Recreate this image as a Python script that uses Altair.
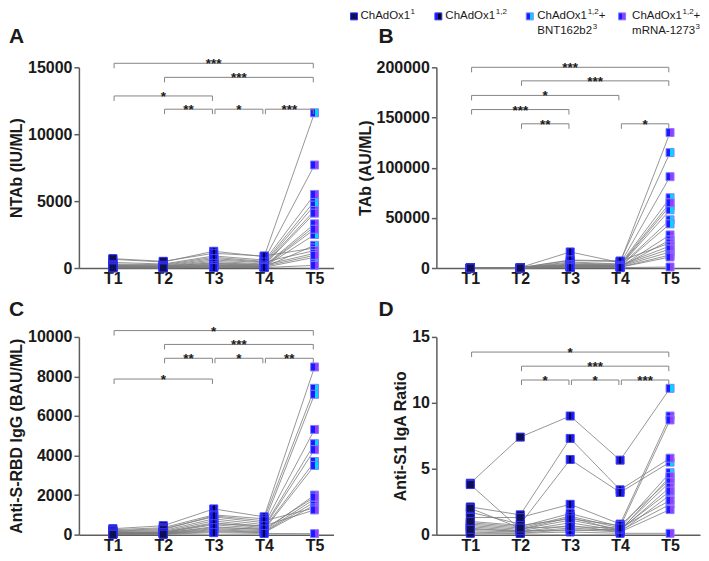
import altair as alt
import pandas as pd

FONT = "Liberation Sans, Arial, Helvetica, sans-serif"
TIMES = [1, 2, 3, 4, 5]

# ---------------- Panel A : NTAb (IU/ML) ----------------
A_T1 = [650, 420, 300, 200, 150, 120, 100, 80, 60, 50, 40, 30, 700, 250, 180, 90, 20, 10]
A_T2 = [450, 300, 250, 150, 120, 100, 90, 70, 50, 40, 30, 20, 500, 200, 150, 80, 15, 10]
A_T3 = [1250, 900, 800, 600, 500, 400, 300, 250, 200, 150, 100, 80, 1100, 700, 350, 180, 60, 40]
A_T4 = [850, 600, 500, 400, 300, 250, 200, 150, 120, 100, 80, 60, 900, 450, 220, 130, 50, 30]
A_T5 = [11600, 7700, 5500, 5000, 4700, 4300, 4100, 3300, 3100, 2900, 2500, 1700, 1500, 1300, 1100, 950, 800, 200]
A_BOOST = ["B", "M", "M", "B", "B", "M", "M", "M", "B", "M", "B", "B", "B", "M", "M", "M", "B", "M"]
A_BR_START = [1, 2, 1, 2, 3, 4]
A_BR_END = [5, 5, 3, 3, 4, 5]
A_BR_LEVEL = [15300, 14250, 12860, 11870, 11870, 11870]
A_BR_LABEL = ["***", "***", "*", "**", "*", "***"]

# ---------------- Panel B : TAb (AU/ML) ----------------
B_T1 = [300, 200, 150, 100, 80, 60, 50, 40, 30, 20, 10, 250, 120, 90, 70, 35, 15, 5]
B_T2 = [500, 400, 300, 250, 200, 150, 120, 100, 80, 60, 40, 350, 180, 140, 90, 50, 30, 10]
B_T3 = [16000, 7500, 6000, 5000, 4000, 3000, 2500, 2000, 1500, 1200, 1000, 8000, 3500, 2800, 1800, 800, 500, 300]
B_T4 = [5500, 6500, 4000, 3500, 3000, 2500, 2000, 1800, 1500, 1200, 1000, 7000, 2800, 2200, 1600, 900, 700, 400]
B_T5 = [135000, 115000, 91000, 70000, 65000, 62000, 58000, 48000, 44000, 33000, 28000, 25000, 22000, 19000, 16000, 13000, 11000, 1000]
B_BOOST = ["M", "B", "M", "B", "M", "B", "B", "B", "B", "M", "M", "M", "M", "M", "B", "M", "M", "M"]
B_BR_START = [1, 2, 1, 1, 2, 4]
B_BR_END = [5, 5, 4, 3, 3, 5]
B_BR_LEVEL = [200000, 186500, 172000, 157900, 143700, 143700]
B_BR_LABEL = ["***", "***", "*", "***", "**", "*"]

# ---------------- Panel C : Anti-S-RBD IgG (BAU/ML) ----------------
C_T1 = [300, 250, 200, 150, 120, 100, 80, 60, 50, 40, 30, 20, 180, 90, 70, 10]
C_T2 = [450, 350, 300, 200, 150, 120, 100, 80, 60, 50, 40, 30, 250, 110, 90, 20]
C_T3 = [1300, 1000, 900, 800, 700, 600, 500, 400, 300, 250, 200, 150, 950, 550, 350, 100]
C_T4 = [900, 800, 600, 500, 400, 350, 300, 250, 200, 150, 120, 100, 700, 450, 280, 60]
C_T5 = [8480, 7400, 7100, 5320, 4600, 4300, 3700, 3500, 2000, 1800, 1650, 1500, 1350, 1250, 1900, 50]
C_BOOST = ["M", "B", "B", "M", "B", "M", "B", "B", "M", "M", "M", "M", "M", "M", "M", "M"]
C_BR_START = [1, 2, 2, 3, 4, 1]
C_BR_END = [5, 5, 3, 4, 5, 3]
C_BR_LEVEL = [10320, 9620, 8920, 8920, 8920, 7870]
C_BR_LABEL = ["*", "***", "**", "*", "**", "*"]

# ---------------- Panel D : Anti-S1 IgA Ratio ----------------
D_T1 = [3.9, 3.8, 2.1, 1.7, 1.3, 0.9, 0.8, 0.7, 0.6, 0.5, 0.3, 0.2, 0.1, 1.0, 0.4, 2.0]
D_T2 = [7.4, 0.4, 1.5, 0.8, 1.3, 0.6, 0.5, 0.4, 0.3, 0.2, 0.2, 0.1, 0.1, 0.7, 0.3, 0.5]
D_T3 = [9.0, 1.3, 7.3, 5.7, 2.3, 1.6, 1.4, 1.1, 0.9, 0.7, 0.5, 0.4, 0.2, 1.2, 0.3, 0.6]
D_T4 = [5.65, 0.3, 3.4, 3.2, 0.8, 0.6, 0.5, 0.4, 0.3, 0.2, 0.3, 0.2, 0.1, 0.7, 0.4, 0.5]
D_T5 = [11.1, 4.4, 5.8, 5.5, 9.0, 8.7, 4.7, 4.0, 3.6, 3.0, 2.3, 1.9, 0.1, 4.2, 3.3, 2.6]
D_BOOST = ["B", "M", "M", "B", "M", "M", "B", "M", "M", "B", "M", "M", "M", "B", "M", "M"]
D_BR_START = [1, 2, 2, 3, 4]
D_BR_END = [5, 5, 3, 4, 5]
D_BR_LEVEL = [13.85, 12.78, 11.73, 11.73, 11.73]
D_BR_LABEL = ["*", "***", "*", "*", "***"]

# ---------------- styles ----------------
AXIS_GREY = "#5e5e5e"
LINE_GREY = "#7c7c7c"
BR_GREY = "#858585"
TXT = "#1a1a1a"


def grad(stops):
    return alt.LinearGradient(
        gradient="linear",
        stops=[alt.GradientStop(color=c, offset=o) for o, c in stops],
        x1=0, x2=1, y1=0, y2=0,
    )


FILL_PRIME = grad([(0, "#101050"), (1, "#101050")])
FILL_SECOND = grad([(0, "#1515ff"), (0.36, "#1515ff"), (0.36, "#000010"),
                    (0.66, "#000010"), (0.66, "#1515ff"), (1, "#1515ff")])
FILL_SECOND_LEG = grad([(0, "#1515ff"), (0.5, "#1515ff"), (0.5, "#000010"), (1, "#000010")])
FILL_BNT = grad([(0, "#1a1aff"), (0.5, "#1a1aff"), (0.5, "#00d8ff"), (1, "#00d8ff")])
FILL_MRNA = grad([(0, "#1a1aff"), (0.5, "#1a1aff"), (0.5, "#9a3cff"), (1, "#9a3cff")])


def long_df(t1, t2, t3, t4, t5, boost):
    rows = []
    for i, vals in enumerate(zip(t1, t2, t3, t4, t5)):
        for t, v in zip(TIMES, vals):
            kind = "prime" if t <= 2 else ("second" if t <= 4 else boost[i])
            rows.append(dict(pid=i, time=t, value=v, kind=kind))
    return pd.DataFrame(rows)


def bracket_df(starts, ends, levels, labels, tick):
    return pd.DataFrame(dict(
        xa=[s + 0.025 for s in starts],
        xb=[e - 0.025 for e in ends],
        mid=[(s + e) / 2 for s, e in zip(starts, ends)],
        level=levels,
        low=[l - tick for l in levels],
        label=labels,
    ))


ONE = pd.DataFrame({"a": [0]})


def txt(s, x, y, size=11.5, dy=0, bold=False, align="left", baseline="middle"):
    return alt.Chart(ONE).mark_text(
        text=s, font=FONT, fontSize=size, fontWeight="bold" if bold else "normal",
        align=align, baseline=baseline, dy=dy, color=TXT,
    ).encode(x=alt.value(x), y=alt.value(y))


def sq(x, y, fill, stroke):
    return alt.Chart(ONE).mark_square(
        size=49, fill=fill, stroke=stroke, strokeWidth=1, opacity=1, filled=True
    ).encode(x=alt.value(x), y=alt.value(y))


def panel(df, bdf, ymax, yvals, ytitle, xdom, w, h, letter, lx, ly, extra=()):
    xs = alt.Scale(domain=xdom, nice=False, zero=False)
    ys = alt.Scale(domain=[0, ymax], nice=False)
    xax = alt.Axis(values=TIMES, labelExpr="'T' + datum.value", ticks=False, grid=False,
                   title=None, labelFontSize=16, labelFontWeight="bold", labelFont=FONT,
                   labelColor=TXT, labelPadding=3, domainColor=AXIS_GREY, domainWidth=1.5,
                   labelFlush=False, labelOverlap=False)
    yax = alt.Axis(values=yvals, format="d", grid=False, title=ytitle, tickSize=5,
                   tickColor=AXIS_GREY, tickWidth=1.5, domainColor=AXIS_GREY, domainWidth=1.5,
                   labelFontSize=16, labelFontWeight="bold", labelFont=FONT, labelColor=TXT,
                   labelPadding=2, titleFontSize=16, titleFont=FONT, titleFontWeight="bold",
                   titleColor=TXT, titlePadding=3, labelOverlap=False)
    X = lambda f: alt.X(f, scale=xs, axis=xax)
    Y = lambda f: alt.Y(f, scale=ys, axis=yax)

    base = alt.Chart(df)
    lines = base.mark_line(color=LINE_GREY, strokeWidth=0.8, clip=False).encode(
        x=X("time:Q"), y=Y("value:Q"), detail="pid:N", order="time:Q")

    def squares(kind, fill, stroke):
        return base.transform_filter(alt.datum.kind == kind).mark_square(
            size=64, fill=fill, stroke=stroke, strokeWidth=1, opacity=1, filled=True, clip=False
        ).encode(x=X("time:Q"), y=Y("value:Q"))

    s1 = squares("prime", FILL_PRIME, "#3030ff")
    s2 = squares("second", FILL_SECOND, "#4040ff")
    s3 = squares("B", FILL_BNT, "#8080ff")
    s4 = squares("M", FILL_MRNA, "#8080ff")

    bc = alt.Chart(bdf)
    hr = bc.mark_rule(color=BR_GREY, strokeWidth=1, clip=False).encode(
        x=X("xa:Q"), x2="xb:Q", y=Y("level:Q"))
    lt = bc.mark_rule(color=BR_GREY, strokeWidth=1, clip=False).encode(
        x=X("xa:Q"), y=Y("level:Q"), y2="low:Q")
    rt = bc.mark_rule(color=BR_GREY, strokeWidth=1, clip=False).encode(
        x=X("xb:Q"), y=Y("level:Q"), y2="low:Q")
    stars = bc.mark_text(font=FONT, fontSize=13.5, fontWeight="bold", color=TXT,
                         baseline="alphabetic", dy=5, clip=False).encode(
        x=X("mid:Q"), y=Y("level:Q"), text="label:N")

    let = txt(letter, lx, ly, size=21, bold=True, baseline="top")
    return alt.layer(lines, s1, s2, s3, s4, hr, lt, rt, stars, let, *extra).properties(
        width=w, height=h)


W_L, W_R = 255, 264
H_1, H_2 = 201, 198
XDOM_L = [0.327, 5.376]
XDOM_R = [0.32, 5.60]

# legend (drawn in the frame of panel B)
L1, L2 = -51, -36
legend = [
    sq(-82.5, L1, FILL_PRIME, "#3030ff"),
    txt("ChAdOx1", -76, L1), txt("1", -26, L1, size=8, dy=-4),
    sq(2, L1, FILL_SECOND_LEG, "#4040ff"),
    txt("ChAdOx1", 9, L1), txt("1,2", 59.5, L1, size=8, dy=-4),
    sq(93.5, L1, FILL_BNT, "#8080ff"),
    txt("ChAdOx1", 101, L1), txt("1,2", 151.5, L1, size=8, dy=-4), txt(" +", 162.5, L1),
    txt("BNT162b2", 101, L2), txt("3", 156.5, L2, size=8, dy=-4),
    sq(186, L1, FILL_MRNA, "#8080ff"),
    txt("ChAdOx1", 196, L1), txt("1,2", 246.5, L1, size=8, dy=-4), txt("+", 257.6, L1),
    txt("mRNA-1273", 196, L2), txt("3", 259.5, L2, size=8, dy=-4),
]

pA = panel(long_df(A_T1, A_T2, A_T3, A_T4, A_T5, A_BOOST),
           bracket_df(A_BR_START, A_BR_END, A_BR_LEVEL, A_BR_LABEL, 15000 / H_1 * 5),
           15000, [0, 5000, 10000, 15000], "NTAb (IU/ML)", XDOM_L, W_L, H_1, "A", -70, -41)
pB = panel(long_df(B_T1, B_T2, B_T3, B_T4, B_T5, B_BOOST),
           bracket_df(B_BR_START, B_BR_END, B_BR_LEVEL, B_BR_LABEL, 200000 / H_1 * 5),
           200000, [0, 50000, 100000, 150000, 200000], "TAb (AU/ML)", XDOM_R, W_R, H_1,
           "B", -58, -41, extra=legend)
pC = panel(long_df(C_T1, C_T2, C_T3, C_T4, C_T5, C_BOOST),
           bracket_df(C_BR_START, C_BR_END, C_BR_LEVEL, C_BR_LABEL, 10000 / H_2 * 5),
           10000, [0, 2000, 4000, 6000, 8000, 10000], "Anti-S-RBD IgG (BAU/ML)", XDOM_L, W_L, H_2,
           "C", -70, -38)
pD = panel(long_df(D_T1, D_T2, D_T3, D_T4, D_T5, D_BOOST),
           bracket_df(D_BR_START, D_BR_END, D_BR_LEVEL, D_BR_LABEL, 15 / H_2 * 5),
           15, [0, 5, 10, 15], "Anti-S1 IgA Ratio", XDOM_R, W_R, H_2, "D", -58, -38)

chart = alt.concat(pA, pB, pC, pD, columns=2, spacing={"row": 69, "column": 103},
                   bounds="flush").properties(
    padding={"left": 0, "top": 0, "right": 0, "bottom": 0},
    background="white",
).configure_view(stroke=None)

chart.save("out.html", embed_options={"renderer": "svg", "actions": False})
